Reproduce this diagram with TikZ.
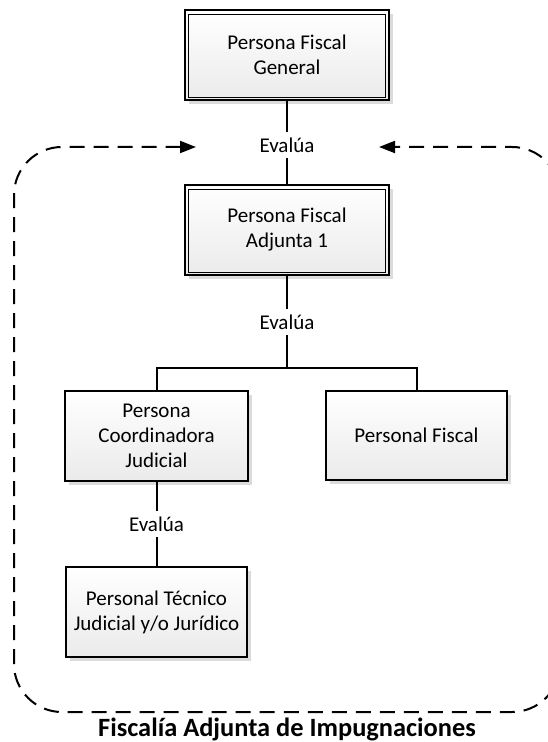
\documentclass[tikz,border=0pt]{standalone}
\usepackage{fontspec}
\setmainfont{Carlito}
\usetikzlibrary{arrows.meta,shadows}

\begin{document}
\begin{tikzpicture}[x=0.5pt,y=-0.5pt,
	caja/.style={draw=black, line width=0.75pt, top color=white, bottom color=black!8, align=center, inner sep=0pt,
		font=\fontsize{10.5}{12.5}\selectfont, drop shadow={shadow xshift=2pt, shadow yshift=-2pt, fill=black!14, opacity=1}},
	conector/.style={line width=1pt},
	evalua/.style={fill=white, inner sep=3pt, font=\fontsize{10.5}{12.5}\selectfont},
	marco/.style={dash pattern=on 7.5pt off 4.5pt, line width=1pt, rounded corners=24pt},
	punta/.tip={Triangle[length=8pt,width=6pt]}]

	\useasboundingbox (0,0) rectangle (547,742);

	\node[caja, minimum width=102pt, minimum height=45pt] (general) at (287,55) {Persona Fiscal\\General};
	 \draw[line width=0.5pt] ([xshift=2pt,yshift=-2.5pt]general.north west) rectangle ([xshift=-2pt,yshift=1.5pt]general.south east);
	\node[caja, minimum width=102pt, minimum height=45pt] (adjunta) at (287,230) {Persona Fiscal\\Adjunta 1};
	 \draw[line width=0.5pt] ([xshift=2pt,yshift=-2.5pt]adjunta.north west) rectangle ([xshift=-2pt,yshift=1.5pt]adjunta.south east);
	\node[caja, minimum width=91.5pt, minimum height=45pt] (coordinadora) at (156.5,436) {Persona\\Coordinadora\\Judicial};
	\node[caja, minimum width=90.5pt, minimum height=44.5pt] (fiscal) at (416.5,435.5) {Personal Fiscal};
	\node[caja, minimum width=90.5pt, minimum height=45pt] (tecnico) at (156.5,612) {Personal Técnico\\Judicial y/o Jurídico};

	\coordinate (barra) at (287,368);

	    \draw[conector] (general.south) -- node[evalua, pos=0.53] (ev1) {Evalúa} (adjunta.north);
	    \draw[conector] (adjunta.south) -- node[evalua] (ev2) {Evalúa} (barra);
	    \draw[conector] (coordinadora.north) |- (barra) -| (fiscal.north);
	    \draw[conector] (coordinadora.south) -- node[evalua] (ev3) {Evalúa} (tecnico.north);

	% recuadro de la fiscalia
	\draw[marco, punta-punta] (196,147) -- (14,147) -- (14,712) -- (560,712) -- (560,147) -- (379,147);
	\node[font=\fontsize{13.2}{16}\selectfont\bfseries] (titulo) at (287,729) {Fiscalía Adjunta de Impugnaciones};

\end{tikzpicture}
\end{document}
